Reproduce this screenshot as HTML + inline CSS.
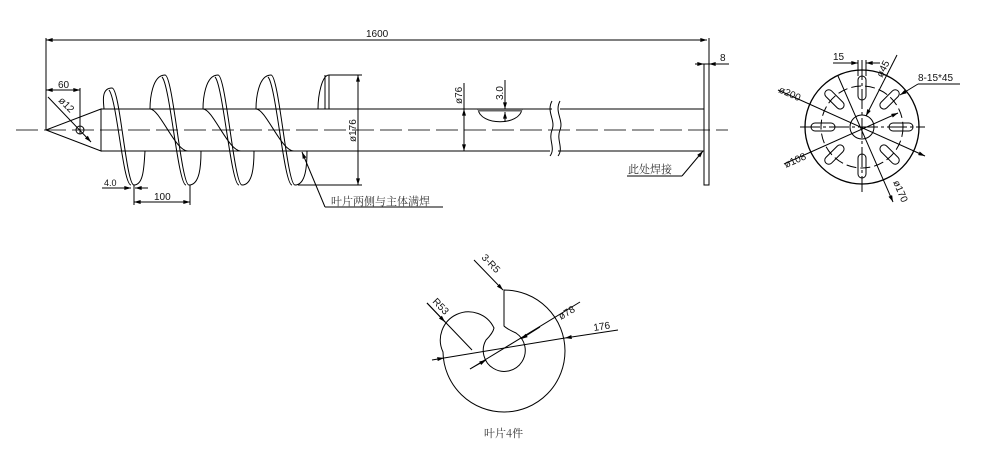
<!DOCTYPE html>
<html><head><meta charset="utf-8"><style>
html,body{margin:0;padding:0;background:#fff}
svg{display:block}
text{font-family:"Liberation Sans","Noto Sans CJK SC",sans-serif;fill:#111}
.c{font-family:"Noto Serif CJK SC","Liberation Serif",serif;fill:#333}
</style></head><body>
<svg width="988" height="453" viewBox="0 0 988 453" xmlns="http://www.w3.org/2000/svg">
<defs>
<marker id="a" viewBox="0 0 10 6" refX="10" refY="3" markerWidth="8" markerHeight="4" orient="auto-start-reverse"><path d="M0,0L10,3L0,6z" fill="#000"/></marker>
</defs>
<g stroke="#000" stroke-width="1" fill="none">
<line x1="16" y1="130" x2="728" y2="130" stroke-dasharray="22,6" stroke="#333"/>
<line x1="46" y1="40" x2="707" y2="40" marker-start="url(#a)" marker-end="url(#a)"/>
<line x1="46" y1="38" x2="46" y2="130"/>
<line x1="709" y1="38" x2="709" y2="64"/>
<path d="M46,130 L101,109 L101,151 Z"/>
<line x1="101" y1="109" x2="552" y2="109"/>
<line x1="101" y1="151" x2="550" y2="151"/>
<line x1="560" y1="109" x2="704" y2="109"/>
<line x1="558" y1="151" x2="704" y2="151"/>
<path d="M552,101 C546,112 556,120 552,130 C548,140 556,148 550,156"/>
<path d="M560,101 C554,112 564,120 560,130 C556,140 564,148 558,156"/>
<rect x="704" y="64" width="5" height="121"/>
<path d="M112,88 C100,88 104,105 104,109"/>
<path d="M112,88 C120,88 126,185 134,185"/>
<path d="M109,90 C117,100 123,185 131,185"/>
<path d="M134,185 C144,185 144,165 145,151"/>
<g id="b">
<path d="M165,75 C152,75 150,100 150,109"/>
<path d="M165,75 C173,75 181,185 189,185"/>
<path d="M162,77 C170,85 178,185 186,185"/>
<path d="M189,185 C200,185 201,165 201,151"/>
</g>
<use href="#b" x="53"/>
<use href="#b" x="106"/>
<path d="M117,109 L150,109 C160,109 175,151 188,151"/>
<path d="M170,109 L203,109 C213,109 228,151 241,151"/>
<path d="M223,109 L256,109 C266,109 281,151 294,151"/>
<path d="M118,151 L131,151"/>
<path d="M329,75 C322,75 318,95 318,109"/>
<line x1="325" y1="75" x2="325" y2="109"/>
<line x1="329" y1="75" x2="329" y2="109"/>
<line x1="329" y1="75" x2="362" y2="75"/>
<line x1="298" y1="185" x2="362" y2="185"/>
<line x1="358" y1="75" x2="358" y2="185" marker-start="url(#a)" marker-end="url(#a)"/>
<line x1="464" y1="83" x2="464" y2="151" marker-end="url(#a)"/>
<line x1="464" y1="130" x2="464" y2="109" marker-end="url(#a)"/>
<line x1="460" y1="151" x2="472" y2="151"/>
<path d="M478,109 C480,126 520,126 522,109"/>
<rect x="478" y="109" width="44" height="2.5" fill="#666" stroke="none"/>
<line x1="505" y1="80" x2="505" y2="109" marker-end="url(#a)"/>
<line x1="505" y1="122" x2="505" y2="112" marker-end="url(#a)"/>
<line x1="695" y1="64" x2="704" y2="64" marker-end="url(#a)"/>
<line x1="719" y1="64" x2="709" y2="64" marker-end="url(#a)"/>
<line x1="719" y1="64" x2="729" y2="64"/>
<line x1="627" y1="176" x2="682" y2="176"/>
<line x1="682" y1="176" x2="703" y2="151" marker-end="url(#a)"/>
<line x1="325" y1="207" x2="443" y2="207"/>
<line x1="325" y1="207" x2="302" y2="152" marker-end="url(#a)"/>
<line x1="46" y1="90" x2="80" y2="90" marker-start="url(#a)" marker-end="url(#a)"/>
<line x1="80" y1="88" x2="80" y2="134"/>
<line x1="48" y1="97" x2="91" y2="142" marker-end="url(#a)"/>
<circle cx="80" cy="130" r="4"/>
<line x1="102" y1="188" x2="131" y2="188" marker-end="url(#a)"/>
<line x1="148" y1="188" x2="135" y2="188" marker-end="url(#a)"/>
<line x1="134" y1="185" x2="134" y2="205"/>
<line x1="190" y1="185" x2="190" y2="205"/>
<line x1="134" y1="202" x2="190" y2="202" marker-start="url(#a)" marker-end="url(#a)"/>
<circle cx="862" cy="127" r="57" stroke-width="1.3"/>
<circle cx="862" cy="127" r="41" stroke-dasharray="10,4"/>
<circle cx="862" cy="127" r="12"/>
<line x1="800" y1="127" x2="925" y2="127" stroke-dasharray="20,3,3,3"/>
<line x1="862" y1="60" x2="862" y2="192" stroke-dasharray="20,3,3,3"/>
<g id="s"><rect x="858" y="76" width="8" height="24" rx="4"/></g>
<use href="#s" transform="rotate(45 862 127)"/>
<use href="#s" transform="rotate(90 862 127)"/>
<use href="#s" transform="rotate(135 862 127)"/>
<use href="#s" transform="rotate(180 862 127)"/>
<use href="#s" transform="rotate(225 862 127)"/>
<use href="#s" transform="rotate(270 862 127)"/>
<use href="#s" transform="rotate(315 862 127)"/>
<line x1="858" y1="60" x2="858" y2="76"/>
<line x1="866" y1="60" x2="866" y2="76"/>
<line x1="833" y1="63" x2="858" y2="63"/>
<line x1="848" y1="63" x2="858" y2="63" marker-end="url(#a)"/>
<line x1="880" y1="63" x2="866" y2="63" marker-end="url(#a)"/>
<line x1="778" y1="90" x2="925" y2="156" marker-end="url(#a)"/>
<line x1="784" y1="164" x2="898" y2="113" marker-end="url(#a)"/>
<line x1="838" y1="76" x2="893" y2="202" marker-end="url(#a)"/>
<line x1="897" y1="55" x2="866" y2="116" marker-end="url(#a)"/>
<line x1="918" y1="84" x2="960" y2="84"/>
<line x1="918" y1="84" x2="900" y2="95" marker-end="url(#a)"/>
<path d="M504,290 A61,61 0 1 1 443,352 A28,28 0 0 1 494,328 Q493,333 486,340 A21,21 0 1 0 516,333 Q507,329 504,326 Z"/>
<line x1="432" y1="360" x2="444" y2="358" marker-end="url(#a)"/>
<line x1="444" y1="358" x2="565" y2="338"/>
<line x1="618" y1="330" x2="565" y2="338" marker-end="url(#a)"/>
<line x1="470" y1="369" x2="580" y2="302"/>
<line x1="470" y1="369" x2="486" y2="360" marker-end="url(#a)"/>
<line x1="540" y1="327" x2="521" y2="339" marker-end="url(#a)"/>
<line x1="427" y1="303" x2="472" y2="350"/>
<line x1="427" y1="303" x2="445" y2="322" marker-end="url(#a)"/>
<line x1="474" y1="260" x2="503" y2="290" marker-end="url(#a)"/>
</g>
<g font-size="10">
<text x="366" y="37">1600</text>
<text x="58" y="88">60</text>
<text x="104" y="186" font-size="9">4.0</text>
<text x="154" y="200">100</text>
<text x="720" y="61">8</text>
<text transform="translate(356,142) rotate(-90)" font-size="10">ø176</text>
<text transform="translate(462,104) rotate(-90)" font-size="10">ø76</text>
<text transform="translate(503,100) rotate(-90)" font-size="10">3.0</text>
<text transform="translate(58,101) rotate(45)" font-size="10">ø12</text>
<text x="833" y="60">15</text>
<text transform="translate(778,92) rotate(24)" font-size="10">ø200</text>
<text transform="translate(786,168) rotate(-24)" font-size="10">ø108</text>
<text transform="translate(882,78) rotate(-63)" font-size="10">ø45</text>
<text transform="translate(893,182) rotate(67)" font-size="10">ø170</text>
<text x="918" y="81">8-15*45</text>
<text transform="translate(594,331) rotate(-9)">176</text>
<text transform="translate(561,320) rotate(-31)">ø78</text>
<text transform="translate(432,302) rotate(46)" font-size="10">R53</text>
<text transform="translate(481,258) rotate(46)" font-size="10">3-R5</text>
<text class="c" x="331" y="205" font-size="11">叶片两侧与主体满焊</text>
<text class="c" x="628" y="173" font-size="11">此处焊接</text>
<text class="c" x="484" y="437" font-size="11">叶片4件</text>
</g>
</svg>
</body></html>
